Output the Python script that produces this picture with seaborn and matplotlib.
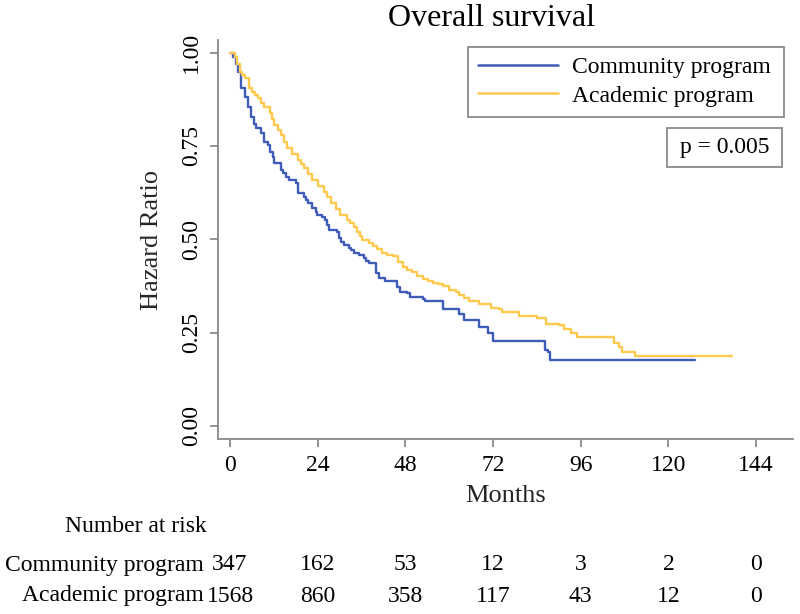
import matplotlib
matplotlib.use("Agg")
import matplotlib.pyplot as plt
import matplotlib.transforms as mtransforms
from matplotlib.patches import Rectangle
import seaborn as sns
import pandas as pd

# ---------------- data ----------------
groups = ["Community program", "Academic program"]

community_months = [0, 0.8, 1.5, 2.2, 3.1, 4.0, 4.9, 5.7, 6.5, 7.1, 8.4, 9.4, 10.3, 11.0, 11.7,
                    12.1, 13.9, 14.6, 15.3, 16.2, 18.0, 18.5, 20.3, 20.7, 21.2, 22.5, 23.4, 23.9,
                    25.3, 26.0, 26.6, 27.1, 29.3, 29.8, 30.5, 31.1, 32.5, 33.2, 33.9, 35.2, 36.6,
                    37.2, 37.9, 40.0, 40.9, 42.4, 45.6, 46.5, 48.3, 49.2, 52.8, 53.4, 58.4, 62.7,
                    64.0, 68.1, 70.5, 72.0, 86.1, 87.1, 87.5, 127.2]
community_surv = [1.0, 0.989, 0.97, 0.949, 0.905, 0.88, 0.855, 0.829, 0.81, 0.798, 0.785, 0.762,
                  0.752, 0.735, 0.721, 0.704, 0.686, 0.677, 0.668, 0.659, 0.650, 0.624, 0.614,
                  0.605, 0.597, 0.585, 0.574, 0.565, 0.561, 0.552, 0.538, 0.525, 0.520, 0.503,
                  0.494, 0.485, 0.476, 0.470, 0.463, 0.458, 0.449, 0.442, 0.436, 0.409, 0.396,
                  0.388, 0.373, 0.360, 0.355, 0.344, 0.339, 0.335, 0.313, 0.299, 0.284, 0.266,
                  0.248, 0.228, 0.204, 0.199, 0.177, 0.177]

academic_months = [0, 1.3, 2.0, 2.6, 3.3, 4.0, 5.3, 6.0, 6.7, 7.6, 8.5, 9.4, 10.8, 11.5, 12.1,
                   13.0, 13.9, 14.8, 15.7, 17.0, 18.5, 19.4, 20.3, 21.4, 22.5, 24.0, 25.7, 26.6,
                   27.5, 29.0, 30.2, 32.0, 32.9, 33.9, 34.8, 35.5, 36.1, 37.9, 39.0, 40.2, 41.5,
                   43.0, 44.7, 46.0, 47.4, 48.5, 49.7, 51.3, 52.9, 54.2, 55.6, 57.0, 58.3, 59.9,
                   61.8, 62.7, 64.0, 65.4, 68.1, 71.3, 73.6, 74.5, 79.1, 84.1, 86.6, 90.0, 91.4,
                   93.2, 95.0, 105.1, 106.5, 107.2, 110.8, 137.3]
academic_surv = [1.0, 0.989, 0.97, 0.949, 0.94, 0.931, 0.905, 0.895, 0.887, 0.878, 0.866, 0.855,
                 0.838, 0.822, 0.806, 0.793, 0.780, 0.762, 0.744, 0.728, 0.713, 0.701, 0.690,
                 0.675, 0.659, 0.643, 0.628, 0.612, 0.597, 0.582, 0.565, 0.552, 0.543, 0.532,
                 0.520, 0.508, 0.498, 0.489, 0.481, 0.473, 0.463, 0.458, 0.454, 0.440, 0.427,
                 0.419, 0.411, 0.402, 0.393, 0.388, 0.384, 0.380, 0.375, 0.365, 0.358, 0.350,
                 0.342, 0.334, 0.327, 0.317, 0.313, 0.306, 0.295, 0.288, 0.273, 0.271, 0.259,
                 0.248, 0.238, 0.223, 0.212, 0.199, 0.186, 0.186]

x_ticks = [0, 24, 48, 72, 96, 120, 144]
y_ticks = [0.00, 0.25, 0.50, 0.75, 1.00]
y_tick_labels = ["0.00", "0.25", "0.50", "0.75", "1.00"]
risk_times = [0, 24, 48, 72, 96, 120, 144]
risk_community = [347, 162, 53, 12, 3, 2, 0]
risk_academic = [1568, 860, 358, 117, 43, 12, 0]
p_text = "p = 0.005"

colors = {"Community program": "#3F5CB8", "Academic program": "#FFC94D"}

# ---------------- figure ----------------
sns.set_theme(style="white")
plt.rcParams["font.family"] = ["Liberation Serif", "DejaVu Serif"]
plt.rcParams["text.color"] = "black"

W, H = 800, 614
fig = plt.figure(figsize=(W / 100, H / 100), dpi=100)
ax = fig.add_axes([218 / W, 1 - 439.3 / H, (793 - 218) / W, (439.3 - 40) / H])

df = pd.concat([
    pd.DataFrame({"Months": community_months, "Survival": community_surv, "Group": groups[0]}),
    pd.DataFrame({"Months": academic_months, "Survival": academic_surv, "Group": groups[1]}),
])

sns.lineplot(data=df, x="Months", y="Survival", hue="Group", hue_order=groups,
             palette=colors, estimator=None, sort=False, drawstyle="steps-post",
             linewidth=1.7, ax=ax, legend=False)

ax.set_xlim(-3.3, 154.1)
ax.set_ylim(-0.036, 1.034)
ax.set_xticks(x_ticks)
ax.set_xticklabels([str(t) for t in x_ticks])
ax.set_yticks(y_ticks)
ax.set_yticklabels(y_tick_labels, rotation=90, va="center")

for side in ["top", "right"]:
    ax.spines[side].set_visible(False)
for side in ["left", "bottom"]:
    ax.spines[side].set_color("#8a8a8a")
    ax.spines[side].set_linewidth(1.3)
ax.tick_params(axis="both", which="major", direction="out", length=5.5, width=1.3,
               color="#8a8a8a", labelsize=17, labelcolor="black", left=True, bottom=True)
ax.tick_params(axis="y", pad=6)
ax.tick_params(axis="x", pad=6)

ax.set_xlabel("Months", fontsize=19, labelpad=6)
ax.set_ylabel("Hazard Ratio", fontsize=19, labelpad=13)

# title
fig.text(492 / W, 1 - 19 / H, "Overall survival", ha="center", va="center", fontsize=23)

# legend
handles = [plt.Line2D([], [], color=colors[g], linewidth=1.8) for g in groups]
leg = fig.legend(handles, groups, loc="center left",
                 bbox_to_anchor=(478 / W, 1 - 81.5 / H), frameon=False,
                 fontsize=17, handlelength=3.4, handletextpad=0.6,
                 labelspacing=0.3, borderpad=0, borderaxespad=0)
fig.add_artist(Rectangle((468 / W, 1 - 117 / H), (784 - 468) / W, (117 - 47) / H,
                         transform=fig.transFigure, fill=False,
                         edgecolor="#8a8a8a", linewidth=1.3))

# p-value box
fig.add_artist(Rectangle((667 / W, 1 - 167 / H), (782 - 667) / W, (167 - 128) / H,
                         transform=fig.transFigure, fill=False,
                         edgecolor="#8a8a8a", linewidth=1.3))
fig.text(724.5 / W, 1 - 148 / H, p_text, ha="center", va="center", fontsize=17)

# number at risk table
fig.text(65 / W, 1 - 526 / H, "Number at risk", ha="left", va="center", fontsize=17)
trans = mtransforms.blended_transform_factory(ax.transData, fig.transFigure)
rows = [(groups[0], risk_community, 565), (groups[1], risk_academic, 596)]
for label, counts, ypx in rows:
    fig.text(204 / W, 1 - ypx / H, label, ha="right", va="center", fontsize=17)
    for t, n in zip(risk_times, counts):
        ax.text(t, 1 - ypx / H, str(n), transform=trans, ha="center", va="center",
                fontsize=17, clip_on=False)

fig.savefig("out.png", dpi=100)
